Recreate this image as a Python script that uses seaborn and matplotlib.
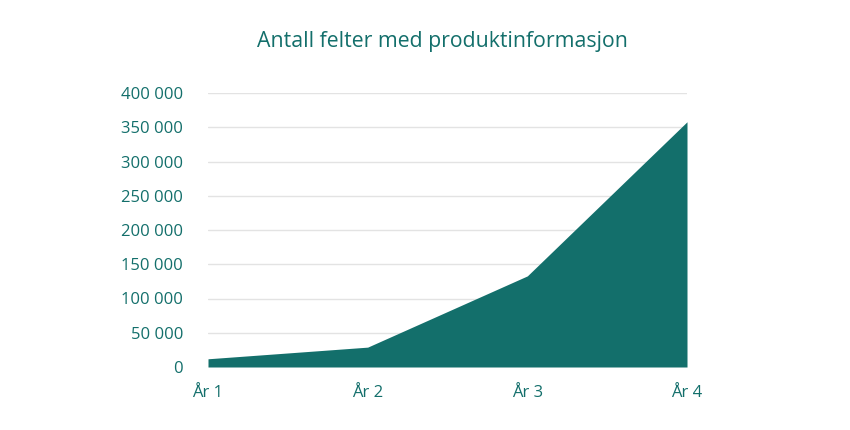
import matplotlib
matplotlib.use("Agg")
import matplotlib.pyplot as plt
import seaborn as sns
import pandas as pd
from matplotlib.ticker import FuncFormatter, MultipleLocator

categories = ["År 1", "År 2", "År 3", "År 4"]
values = [12000, 29000, 133000, 358000]
title = "Antall felter med produktinformasjon"

TEAL = "#136f6b"

sns.set_theme(style="white")
plt.rcParams["font.family"] = ["Open Sans", "DejaVu Sans"]

df = pd.DataFrame({"pos": range(len(categories)), "value": values})

fig = plt.figure(figsize=(8.5, 4.3), dpi=100)
ax = fig.add_axes([208/850, 1-367/430, (687-208)/850, (367-93)/430])

sns.lineplot(data=df, x="pos", y="value", ax=ax, color=TEAL, linewidth=0)
ax.fill_between(df["pos"], 0, df["value"], color=TEAL, linewidth=0, zorder=3)

ax.set_xlim(0, len(categories) - 1)
ax.set_ylim(0, 400000)
ax.yaxis.set_major_locator(MultipleLocator(50000))
ax.yaxis.set_major_formatter(FuncFormatter(lambda v, p: f"{int(v):,}".replace(",", " ")))
ax.set_xticks(range(len(categories)))
ax.set_xticklabels(categories)
ax.grid(axis="y", color="#e3e3e3", linewidth=1, zorder=0)
ax.grid(axis="x", visible=False)
for s in ax.spines.values():
    s.set_visible(False)
ax.tick_params(axis="both", length=0, labelsize=12, labelcolor=TEAL)
ax.tick_params(axis="y", pad=18)
ax.tick_params(axis="x", pad=13)
ax.set_xlabel("")
ax.set_ylabel("")
fig.text(442/850, 1-41/430, title, ha="center", va="center", fontsize=15.3, color=TEAL)

fig.savefig("out.png", dpi=100)
